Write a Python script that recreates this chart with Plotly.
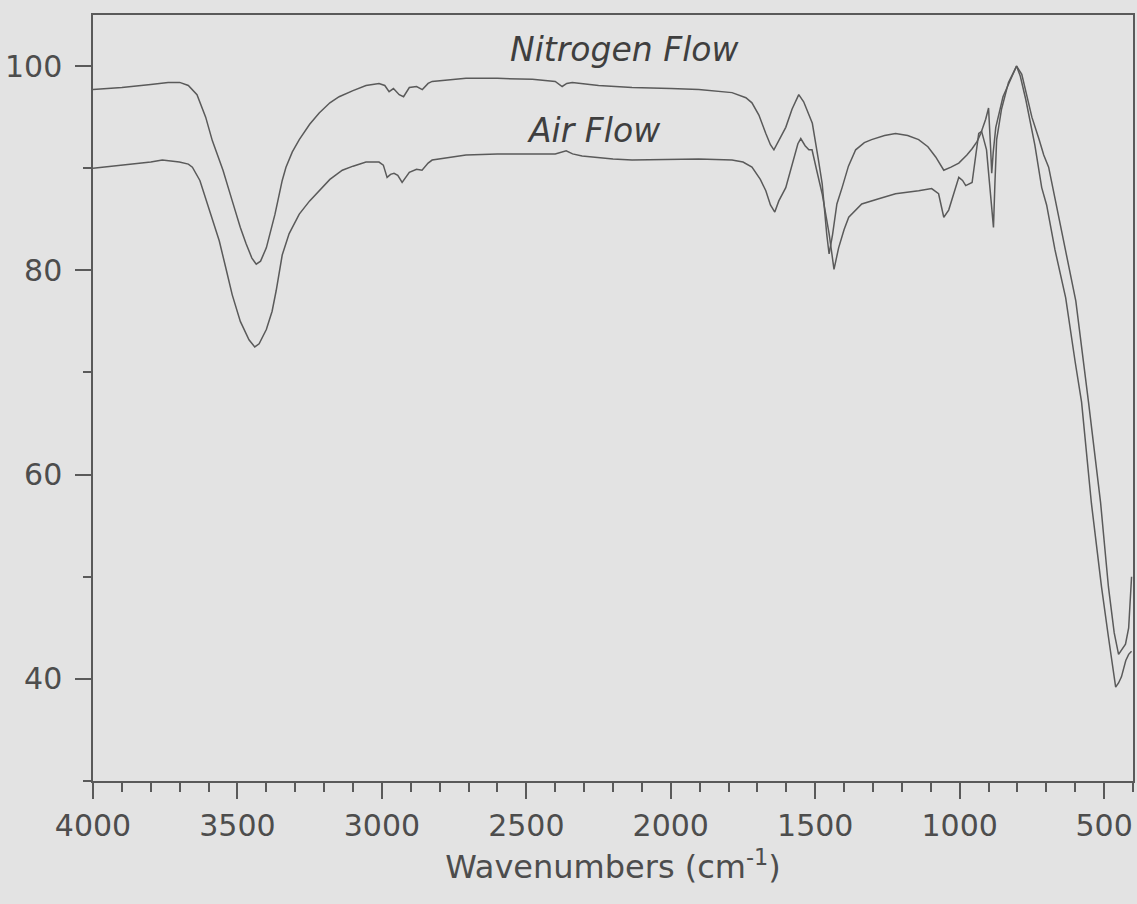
import plotly.graph_objects as go

# Nitrogen flow spectrum (wavenumber cm-1, transmittance %)
n2_wn = [4000, 3900, 3800, 3740, 3700, 3670, 3640, 3610, 3587, 3550, 3518, 3490, 3470, 3450, 3435,
         3420, 3400, 3370, 3345, 3332, 3310, 3286, 3250, 3217, 3180, 3148, 3100, 3055, 3010, 2990,
         2975, 2960, 2940, 2925, 2905, 2880, 2860, 2840, 2826, 2709, 2600, 2479, 2400, 2376, 2360,
         2341, 2250, 2134, 2000, 1903, 1788, 1740, 1719, 1695, 1671, 1655, 1643, 1625, 1602, 1580,
         1557, 1540, 1510, 1490, 1476, 1460, 1452, 1440, 1425, 1407, 1385, 1360, 1330, 1305, 1260,
         1222, 1180, 1142, 1110, 1083, 1065, 1055, 1030, 1003, 975, 957, 940, 927, 910, 900,
         893, 889, 884, 875, 850, 820, 803, 785, 770, 750, 725, 709, 692, 670, 647,
         620, 598, 554, 512, 485, 465, 450, 440, 426, 415, 409, 405]
n2_t = [97.7, 97.9, 98.2, 98.4, 98.4, 98.1, 97.2, 95.0, 92.7, 89.8, 86.8, 84.2, 82.6, 81.2, 80.6,
        80.9, 82.2, 85.5, 88.8, 90.1, 91.6, 92.8, 94.3, 95.4, 96.4, 97.0, 97.6, 98.1, 98.3, 98.1,
        97.5, 97.8, 97.2, 97.0, 97.9, 98.0, 97.7, 98.3, 98.5, 98.8, 98.8, 98.7, 98.5, 98.0, 98.3,
        98.4, 98.1, 97.9, 97.8, 97.7, 97.4, 96.9, 96.4, 95.2, 93.4, 92.3, 91.8, 92.7, 94.0, 95.8,
        97.2, 96.5, 94.4, 91.0, 88.5, 83.5, 81.6, 83.5, 86.5, 88.1, 90.2, 91.8, 92.5, 92.8, 93.2,
        93.4, 93.2, 92.8, 92.1, 91.1, 90.3, 89.8, 90.1, 90.5, 91.3, 91.9, 92.6, 93.4, 94.8, 95.9,
        92.0, 89.5, 91.5, 94.0, 97.0, 99.0, 100.0, 99.2, 97.5, 95.0, 92.8, 91.3, 90.1, 87.0, 83.6,
        80.0, 77.0, 67.1, 57.2, 49.0, 44.5, 42.4, 42.8, 43.4, 45.0, 49.0, 50.0]

# Air flow spectrum
air_wn = [4000, 3900, 3800, 3760, 3701, 3670, 3656, 3630, 3608, 3585, 3563, 3540, 3518, 3490, 3460,
          3440, 3425, 3400, 3380, 3366, 3345, 3321, 3300, 3286, 3250, 3217, 3180, 3137, 3100, 3055,
          3010, 2995, 2982, 2970, 2958, 2945, 2930, 2905, 2880, 2861, 2840, 2826, 2709, 2600, 2479,
          2400, 2362, 2340, 2307, 2200, 2134, 2000, 1903, 1788, 1750, 1719, 1690, 1671, 1655, 1640,
          1626, 1602, 1580, 1560, 1550, 1535, 1522, 1511, 1495, 1476, 1452, 1435, 1419, 1400, 1384,
          1339, 1280, 1222, 1142, 1097, 1073, 1062, 1055, 1038, 1015, 1003, 990, 979, 957, 945,
          934, 924, 907, 895, 883, 878, 872, 855, 831, 803, 790, 771, 740, 716, 699,
          670, 633, 600, 578, 544, 509, 485, 470, 460, 450, 440, 425, 415, 405]
air_t = [90.0, 90.3, 90.6, 90.8, 90.6, 90.4, 90.1, 88.8, 86.8, 84.9, 82.9, 80.2, 77.6, 75.0, 73.2,
         72.5, 72.8, 74.2, 76.0, 78.0, 81.5, 83.6, 84.7, 85.5, 86.8, 87.8, 88.9, 89.8, 90.2, 90.6,
         90.6, 90.3, 89.1, 89.4, 89.5, 89.3, 88.6, 89.6, 89.9, 89.8, 90.5, 90.8, 91.3, 91.4, 91.4,
         91.4, 91.7, 91.4, 91.2, 90.9, 90.8, 90.9, 90.9, 90.8, 90.6, 90.1, 88.9, 87.8, 86.4, 85.7,
         86.8, 88.1, 90.5, 92.4, 92.9, 92.2, 91.8, 91.8, 89.8, 87.5, 83.6, 80.1, 82.2, 84.0, 85.2,
         86.5, 87.0, 87.5, 87.8, 88.0, 87.5, 86.2, 85.2, 85.9, 87.9, 89.1, 88.8, 88.3, 88.6, 91.0,
         93.4, 93.6, 91.8, 88.0, 84.2, 88.5, 92.8, 95.8, 98.4, 100.0, 99.0, 96.7, 92.3, 88.1, 86.4,
         82.0, 77.3, 71.0, 67.1, 57.2, 49.0, 44.1, 41.0, 39.2, 39.6, 40.2, 41.8, 42.4, 42.7]

x_ticks = [4000, 3500, 3000, 2500, 2000, 1500, 1000, 500]
y_ticks = [40, 60, 80, 100]
labels = ["Nitrogen Flow", "Air Flow"]
label_pos = [(2159, 101.6), (2266, 93.7)]

BG = "#e3e3e3"
INK = "#4d4d4d"
LINE = "#5a5a5a"
FONT = "DejaVu Sans"

fig = go.Figure()
fig.add_trace(go.Scatter(x=n2_wn, y=n2_t, mode="lines", name=labels[0],
                         line=dict(color=LINE, width=1.5)))
fig.add_trace(go.Scatter(x=air_wn, y=air_t, mode="lines", name=labels[1],
                         line=dict(color=LINE, width=1.5)))

for text, (px, py) in zip(labels, label_pos):
    fig.add_annotation(x=px, y=py, text=text, showarrow=False, xanchor="center", yanchor="middle",
                       font=dict(family=FONT, size=33, color="#3f3f3f", style="italic"))

fig.update_layout(
    width=1137, height=904,
    margin=dict(l=93, r=4, t=15, b=123),
    paper_bgcolor=BG, plot_bgcolor=BG,
    showlegend=False,
    font=dict(family=FONT, size=30, color=INK),
)
fig.update_xaxes(
    range=[4000, 400], tickvals=x_ticks, ticktext=[str(v) for v in x_ticks],
    ticks="outside", ticklen=16, tickwidth=1.5, tickcolor=LINE,
    minor=dict(dtick=100, tick0=0, ticks="outside", ticklen=9, tickwidth=1.5, tickcolor=LINE),
    showline=True, linecolor=LINE, linewidth=1.5, mirror=True,
    showgrid=False, zeroline=False, automargin=False,
    tickfont=dict(family=FONT, size=30, color=INK),
    ticklabelstandoff=1,
    title=dict(text="Wavenumbers (cm<sup>-1</sup>)", font=dict(family=FONT, size=32, color=INK), standoff=14),
)
fig.update_yaxes(
    range=[30, 105], tickvals=y_ticks, ticktext=[str(v) for v in y_ticks],
    ticks="outside", ticklen=16, tickwidth=1.5, tickcolor=LINE,
    minor=dict(tickvals=[30, 50, 70, 90], ticks="outside", ticklen=8, tickwidth=1.5, tickcolor=LINE),
    showline=True, linecolor=LINE, linewidth=1.5, mirror=True,
    showgrid=False, zeroline=False, automargin=False,
    tickfont=dict(family=FONT, size=30, color=INK),
    ticklabelstandoff=7,
)

fig.write_html("out.html")
